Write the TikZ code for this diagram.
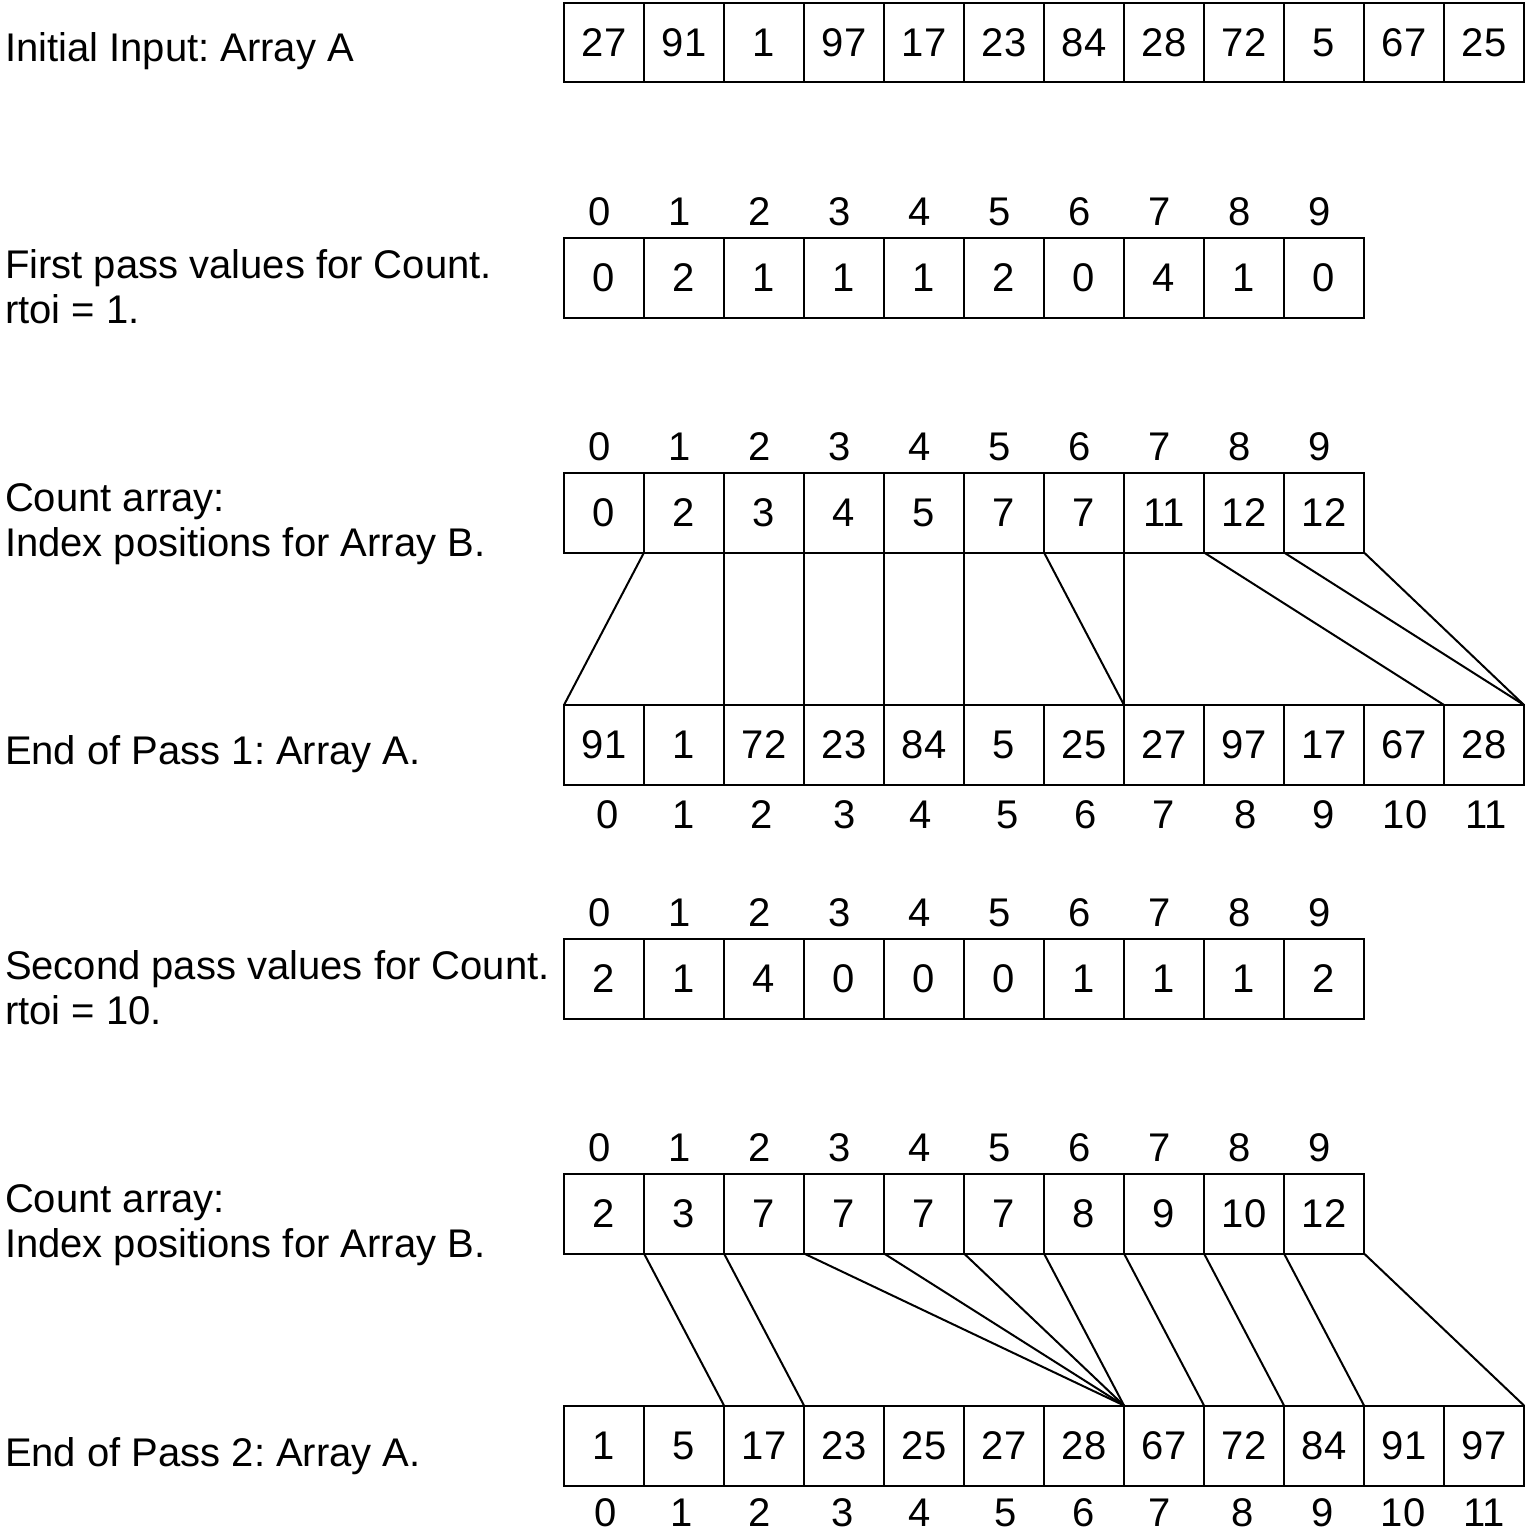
\documentclass[tikz,border=0pt]{standalone}
\usepackage{fontspec}
\setmainfont{Liberation Sans}
\frenchspacing
\begin{document}
\begin{tikzpicture}[x=0.5pt,y=-0.5pt,
  font=\fontsize{20}{22.5}\selectfont\frenchspacing,
  line width=1pt,
  cell/.style={draw, line width=1pt, minimum width=40pt, minimum height=40pt, inner sep=0pt, outer sep=0pt},
  idx/.style={inner sep=0pt},
  lbl/.style={anchor=base west, inner sep=0pt},
  conn/.style={line width=1pt}]
\useasboundingbox (0,0) rectangle (1527,1534);

% Row 1: initial array
\node[lbl] (L1) at (4,62) {Initial Input: Array A};
\foreach [count=\i from 0] \v in {27,91,1,97,17,23,84,28,72,5,67,25}
  \node[cell, minimum height=39.5pt] (A-\i) at (604+80*\i,42.5) {\v};

% Row 2: first pass counts
\node[lbl] (L2a) at (4,279) {First pass values for Count.};
\node[lbl] (L2b) at (4,324) {rtoi = 1.};
\foreach \i in {0,...,9}
  \node[idx] (I2-\i) at (600+80*\i,212) {\i};
\foreach [count=\i from 0] \v in {0,2,1,1,1,2,0,4,1,0}
  \node[cell] (C1-\i) at (604+80*\i,278) {\v};

% Row 3: count array (prefix sums)
\node[lbl] (L3a) at (4,511) {Count array:};
\node[lbl] (L3b) at (4,556) {Index positions for Array B.};
\foreach \i in {0,...,9}
  \node[idx] (I3-\i) at (600+80*\i,447) {\i};
\foreach [count=\i from 0] \v in {0,2,3,4,5,7,7,11,12,12}
  \node[cell] (X1-\i) at (604+80*\i,512.5) {\v};

% Row 4: end of pass 1
\node[lbl] (L4) at (4,764) {End of Pass 1: Array A.};
\foreach [count=\i from 0] \v in {91,1,72,23,84,5,25,27,97,17,67,28}
  \node[cell] (B1-\i) at (604+80*\i,745) {\v};
\foreach [count=\i from 0] \xx in {608,684,762,845,921,1008,1086,1164,1246,1324,1405,1486}
  \node[idx] (J4-\i) at (\xx,815) {\i};

% Row 5: second pass counts
\node[lbl] (L5a) at (4,979) {Second pass values for Count.};
\node[lbl] (L5b) at (4,1024) {rtoi = 10.};
\foreach \i in {0,...,9}
  \node[idx] (I5-\i) at (600+80*\i,913) {\i};
\foreach [count=\i from 0] \v in {2,1,4,0,0,0,1,1,1,2}
  \node[cell] (C2-\i) at (604+80*\i,978.5) {\v};

% Row 6: count array (prefix sums)
\node[lbl] (L6a) at (4,1212) {Count array:};
\node[lbl] (L6b) at (4,1257) {Index positions for Array B.};
\foreach \i in {0,...,9}
  \node[idx] (I6-\i) at (600+80*\i,1148) {\i};
\foreach [count=\i from 0] \v in {2,3,7,7,7,7,8,9,10,12}
  \node[cell] (X2-\i) at (604+80*\i,1213.5) {\v};

% Row 7: end of pass 2
\node[lbl] (L7) at (4,1466) {End of Pass 2: Array A.};
\foreach [count=\i from 0] \v in {1,5,17,23,25,27,28,67,72,84,91,97}
  \node[cell] (B2-\i) at (604+80*\i,1445.5) {\v};
\foreach [count=\i from 0] \xx in {606,682,760,843,920,1006,1084,1160,1243,1323,1403,1484}
  \node[idx] (J7-\i) at (\xx,1513) {\i};

% Connectors: pass 1
\draw[conn] (X1-1.south west) -- (B1-0.north west);
\draw[conn] (X1-2.south west) -- (B1-2.north west);
\draw[conn] (X1-3.south west) -- (B1-3.north west);
\draw[conn] (X1-4.south west) -- (B1-4.north west);
\draw[conn] (X1-5.south west) -- (B1-5.north west);
\draw[conn] (X1-6.south west) -- (B1-7.north west);
\draw[conn] (X1-7.south west) -- (B1-7.north west);
\draw[conn] (X1-8.south west) -- (B1-11.north west);
\draw[conn] (X1-9.south west) -- (B1-11.north east);
\draw[conn] (X1-9.south east) -- (B1-11.north east);

% Connectors: pass 2
\draw[conn] (X2-1.south west) -- (B2-2.north west);
\draw[conn] (X2-2.south west) -- (B2-3.north west);
\draw[conn] (X2-3.south west) -- (B2-7.north west);
\draw[conn] (X2-4.south west) -- (B2-7.north west);
\draw[conn] (X2-5.south west) -- (B2-7.north west);
\draw[conn] (X2-6.south west) -- (B2-7.north west);
\draw[conn] (X2-7.south west) -- (B2-8.north west);
\draw[conn] (X2-8.south west) -- (B2-9.north west);
\draw[conn] (X2-9.south west) -- (B2-10.north west);
\draw[conn] (X2-9.south east) -- (B2-11.north east);
\end{tikzpicture}
\end{document}
